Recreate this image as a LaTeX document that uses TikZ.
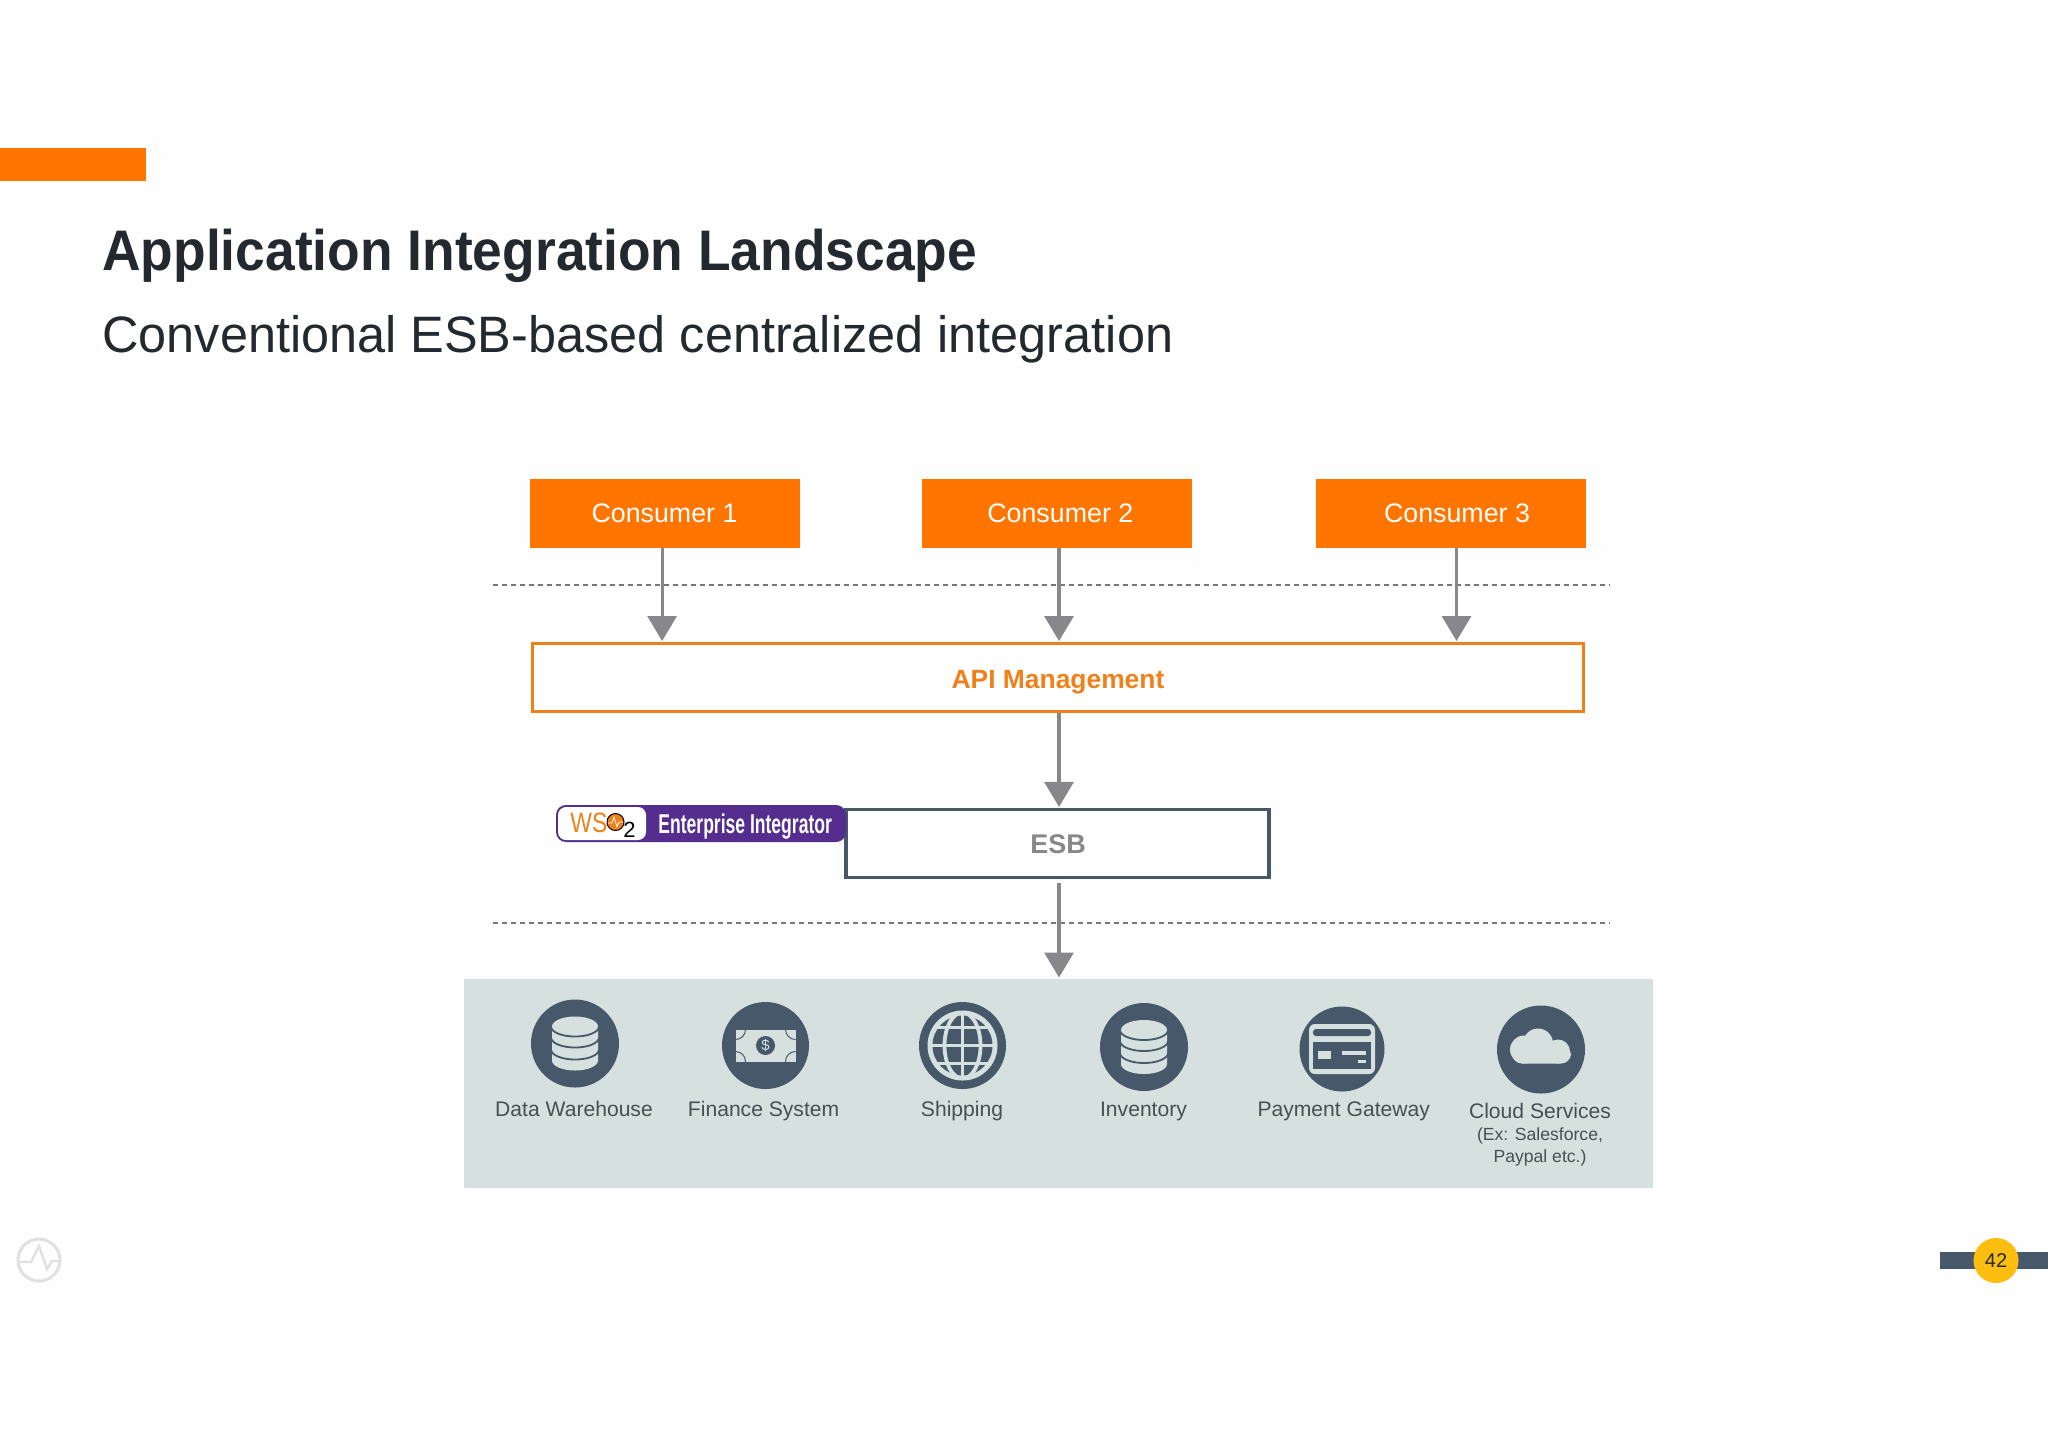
\documentclass[tikz,border=0pt]{standalone}
\usepackage{fontspec}
\usepackage{graphicx}
\setmainfont{Liberation Sans}
\usetikzlibrary{arrows.meta,calc}
\definecolor{orng}{HTML}{FF7500}
\definecolor{apiorng}{HTML}{F0801A}
\definecolor{ink}{HTML}{23292E}
\definecolor{slate}{HTML}{47586A}
\definecolor{panel}{HTML}{D6E1DF}
\definecolor{arrowgray}{HTML}{88888C}
\definecolor{dashgray}{HTML}{77777B}
\definecolor{lbl}{HTML}{454F54}
\definecolor{wpurple}{HTML}{542D8E}
\definecolor{yel}{HTML}{FDBE10}
\newcommand{\fs}[1]{\fontsize{#1}{#1}\selectfont}
\newcommand{\lowered}[2]{\raisebox{-#1}[0pt][0pt]{#2}}
\tikzset{
  x=0.5pt,y=-0.5pt,
  consumer/.style={fill=orng,draw=none,minimum width=135pt,minimum height=34.5pt,inner sep=0pt,text=white,font=\fs{13.4}},
  flow/.style={draw=arrowgray,line width=1.6pt,-{Triangle[length=12.5pt,width=14.5pt]},shorten >=0.5pt},
  sep/.style={draw=dashgray,line width=0.8pt,dash pattern=on 2.5pt off 2pt},
  itemlabel/.style={anchor=base,text=lbl,inner sep=0pt,font=\fs{10.55}},
  itemsmall/.style={anchor=base,text=lbl,inner sep=0pt,font=\fs{8.8}},
  disc/.style={fill=slate,draw=none},
  sym/.style={fill=panel,draw=none},
}
\newcommand{\dbicon}{%
  \fill[panel] (-23,-17) arc[start angle=180,end angle=360,x radius=23,y radius=10] -- (23,17) arc[start angle=0,end angle=180,x radius=23,y radius=10] -- cycle;
  \draw[slate,line width=0.9pt] (-24,-17) arc[start angle=180,end angle=0,x radius=24,y radius=10];
  \draw[slate,line width=0.9pt] (-24,-6) arc[start angle=180,end angle=0,x radius=24,y radius=10];
  \draw[slate,line width=0.9pt] (-24,6) arc[start angle=180,end angle=0,x radius=24,y radius=10];
}
\begin{document}
\begin{tikzpicture}
\useasboundingbox (0,0) rectangle (2048,1448);
\fill[white!99.5!black] (0,0) rectangle (2048,1448);
% header
\fill[orng] (0,147.5) rectangle (146,180.5);
\node[anchor=base west,inner sep=0pt,text=ink,font=\fs{28.6}\bfseries] (title) at (102,270) {\scalebox{0.933}[1]{Application Integration Landscape}};
\node[anchor=base west,inner sep=0pt,text=ink,font=\fs{25.6}] (subtitle) at (102,352) {\scalebox{0.985}[1]{Conventional ESB-based centralized integration}};
% separators
\coordinate (d1a) at (493,585); \coordinate (d1b) at (1610,585);
\coordinate (d2a) at (493,923); \coordinate (d2b) at (1610,923);
\draw[sep] (d1a) -- (d1b);
\draw[sep] (d2a) -- (d2b);
% boxes
\node[consumer] (c1) at (664.5,513.5) {\lowered{4.25pt}{Consumer 1}};
\node[consumer] (c2) at (1057,513.5) {\hspace{3.3pt}\lowered{4.25pt}{Consumer 2}};
\node[consumer] (c3) at (1451,513.5) {\hspace{6pt}\lowered{4.25pt}{Consumer 3}};
\node[draw=apiorng,line width=1.5pt,fill=white,minimum width=525.5pt,minimum height=34pt,inner sep=0pt,text=apiorng,font=\fs{13.2}\bfseries] (api) at (1058,677.5) {\lowered{5.25pt}{API Management}};
\node[draw=slate,line width=1.6pt,fill=white,minimum width=211.5pt,minimum height=34pt,inner sep=0pt,text=arrowgray,font=\fs{13.5}\bfseries] (esb) at (1057.5,843.5) {\hspace{0.5pt}\lowered{4.9pt}{ESB}};
\fill[panel] (464,978.5) rectangle (1652.5,1187.5);
\path (1059,978.5) coordinate (panelTop);
% connectors
\draw[flow] ([xshift=-1.2pt]c1.south) -- ([xshift=-1.2pt]c1.south |- api.north);
\draw[flow] ([xshift=1pt]c2.south) -- ([xshift=1pt]c2.south |- api.north);
\draw[flow] ([xshift=2.75pt]c3.south) -- ([xshift=2.75pt]c3.south |- api.north);
\draw[flow] ([xshift=0.5pt]api.south) -- ([xshift=0.75pt]esb.north);
\draw[flow] ([xshift=0.75pt,yshift=-2pt]esb.south) -- (panelTop);
% WSO2 badge
\fill[wpurple,rounded corners=5pt] (556,805) rectangle (846,842);
\fill[white,rounded corners=4pt] (558,807) rectangle (646,840);
\node[anchor=base west,inner sep=0pt,text=apiorng,font=\fs{14}] (ws) at (570,832) {\scalebox{0.82}[1]{WS}};
\filldraw[fill=apiorng,draw=black,line width=0.5pt] (615.5,822) circle[radius=8.5];
\draw[white,line width=0.4pt] (608,823) -- (612,823) -- (614,817) -- (617,827) -- (619,822) -- (623,822);
\node[anchor=base,inner sep=0pt,text=black,font=\fs{11}] (two) at (629.5,837) {2};
\node[anchor=base west,inner sep=0pt,text=white,font=\fs{13.6}\bfseries] (ei) at (658,833) {\scalebox{0.645}[1]{Enterprise Integrator}};
% Data warehouse
\fill[disc] (575,1043.5) circle[radius=44];
\begin{scope}[shift={(575,1043.5)}]\dbicon\end{scope}
\node[itemlabel] (l1) at (574,1116) {Data Warehouse};
% Finance
\fill[disc] (765.5,1045.5) circle[radius=43.5];
\begin{scope}[shift={(765.5,1045.5)}]
  \fill[panel] (-30,-16) rectangle (30,16);
  \begin{scope}
    \clip (-30,-16) rectangle (30,16);
    \draw[slate,line width=0.5pt] (-30,-16) circle[radius=10];
    \draw[slate,line width=0.5pt] (30,-16) circle[radius=10];
    \draw[slate,line width=0.5pt] (-30,16) circle[radius=10];
    \draw[slate,line width=0.5pt] (30,16) circle[radius=10];
  \end{scope}
  \fill[slate] (0,0) circle[radius=9.5];
  \node[inner sep=0pt,text=panel,font=\fs{7.5}] (dollar) at (0,0) {\$};
\end{scope}
\node[itemlabel] (l2) at (763.6,1116) {Finance System};
% Shipping
\fill[disc] (962.5,1045.5) circle[radius=43.5];
\begin{scope}[shift={(962.5,1045.5)}]
  \fill[panel] (0,0) circle[radius=35];
  \fill[slate] (0,0) circle[radius=30];
  \begin{scope}
    \clip (0,0) circle[radius=31];
    \draw[panel,line width=1.9pt] (-35,-18) -- (35,-18) (-35,0) -- (35,0) (-35,18) -- (35,18) (0,-35) -- (0,35);
    \draw[panel,line width=1.9pt] (0,0) ellipse[x radius=18,y radius=33];
  \end{scope}
\end{scope}
\node[itemlabel] (l3) at (962,1116) {Shipping};
% Inventory
\fill[disc] (1144,1047) circle[radius=44];
\begin{scope}[shift={(1144,1047)}]\dbicon\end{scope}
\node[itemlabel] (l4) at (1143.5,1116) {Inventory};
% Payment
\fill[disc] (1342,1049) circle[radius=42.5];
\begin{scope}[shift={(1342,1049)}]
  \fill[panel,rounded corners=3pt] (-33,-25) rectangle (33,25);
  \fill[slate,rounded corners=1.5pt] (-29,-20) -- (-29,-13) -- (29,-13) -- (29,-20) -- cycle;
  \fill[slate] (-29,-7) rectangle (29,20);
  \fill[panel] (-24,2) rectangle (-11,10);
  \fill[panel] (0,2) rectangle (24,6);
  \fill[panel] (16,11) rectangle (24,14);
\end{scope}
\node[itemlabel] (l5) at (1343.7,1116) {Payment Gateway};
% Cloud
\fill[disc] (1541,1049.5) circle[radius=44];
\begin{scope}[shift={(1541,1049.5)}]
  \fill[panel,rounded corners=5pt] (-29,-4) rectangle (30,14);
  \fill[panel] (-17,0) circle[radius=14];
  \fill[panel] (-3,-6) circle[radius=15];
  \fill[panel] (17,2) circle[radius=12];
\end{scope}
\node[itemlabel] (l6a) at (1540,1118.5) {Cloud Services};
\node[itemsmall] (l6b) at (1540,1140.5) {(Ex: Salesforce,};
\node[itemsmall] (l6c) at (1540,1162.5) {Paypal etc.)};
% footer
\draw[black!12,line width=1.5pt] (39,1260) circle[radius=21];
\draw[black!12,line width=1.2pt] (20,1262) -- (31,1262) -- (39,1246) -- (47,1269) -- (52,1261) -- (60,1261);
\fill[slate] (1940,1252) rectangle (2048,1269);
\node[circle,fill=yel,minimum size=22.5pt,inner sep=0pt,text=ink,font=\fs{10}] (page) at (1996,1260.5) {42};
\end{tikzpicture}
\end{document}
